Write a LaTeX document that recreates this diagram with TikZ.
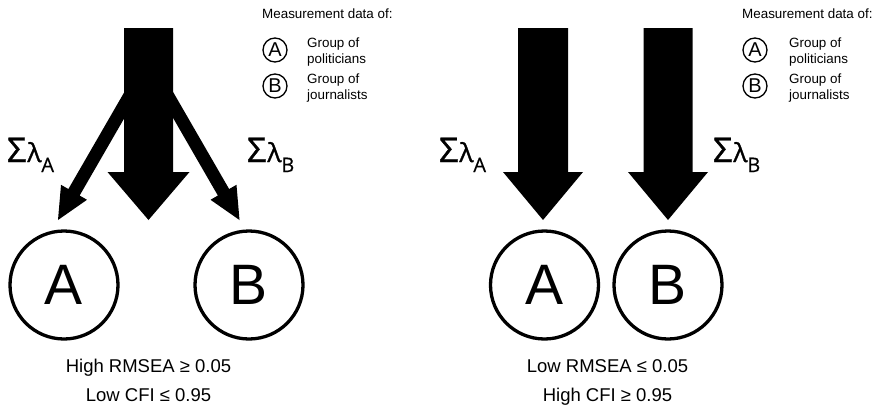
\documentclass[tikz,border=0pt]{standalone}
\usepackage{fontspec}
\setmainfont{Liberation Sans}
\newfontfamily\sigfont[FakeBold=1.2]{Open Sans}
\newfontfamily\subfont[FakeBold=0.4]{Open Sans}
\tikzset{
  pics/fatarrow/.style n args={4}{code={
    \fill[black] (-#2/2,-#1) -- (#2/2,-#1) -- (#2/2,-#4) -- (#3/2,-#4) -- (0,0)
      -- (-#3/2,-#4) -- (-#2/2,-#4) -- cycle;
  }},
  bigcirc/.style={circle, draw, line width=3.3pt, minimum size=108pt, inner sep=0pt,
    font=\fontsize{57}{57}\selectfont},
  smallcirc/.style={circle, draw, line width=1.3pt, minimum size=24pt, inner sep=0pt,
    font=\fontsize{20}{20}\selectfont},
  legtxt/.style={anchor=base west, inner sep=0pt, font=\fontsize{13.4}{16}\selectfont},
  fittxt/.style={anchor=base, inner sep=0pt, font=\fontsize{18.5}{20}\selectfont},
  sumlab/.style={anchor=base west, inner sep=0pt},
}
\newcommand{\suml}[1]{{\sigfont\fontsize{34}{34}\selectfont Σ\kern1pt\fontsize{26}{26}\selectfont λ\raisebox{-10pt}{\subfont\fontsize{20}{20}\selectfont #1}}}
\begin{document}
\begin{tikzpicture}[x=1pt,y=-1pt]
\useasboundingbox (0,0) rectangle (876,407);

% ---------- left panel ----------
\coordinate (tipLA) at (58,220);
\coordinate (tipLB) at (239.5,220);
\coordinate (tipLC) at (148.5,220);
\pic[rotate=-30] at (tipLA) {fatarrow={181}{13}{30}{32}};
\pic[rotate=30] at (tipLB) {fatarrow={181}{13}{30}{32}};
\pic at (tipLC) {fatarrow={192}{49}{82}{48}};

\node[bigcirc] (A1) at (64,285) {A};
\node[bigcirc] (B1) at (249,285) {B};

\node[sumlab] (sA1) at (7,162) {\suml{A}};
\node[sumlab] (sB1) at (247,162) {\suml{B}};

\node[fittxt] (f1a) at (148.5,372.7) {High RMSEA ≥ 0.05};
\node[fittxt] (f1b) at (148.5,401.7) {Low CFI ≤ 0.95};

\node[legtxt] (m1) at (262,18.5) {Measurement data of:};
\node[smallcirc] (lA1) at (275,50) {A};
\node[smallcirc] (lB1) at (275,86) {B};
\node[legtxt] (g1a) at (307,47) {Group of};
\node[legtxt] (g1b) at (307,63) {politicians};
\node[legtxt] (g1c) at (307,83) {Group of};
\node[legtxt] (g1d) at (307,99) {journalists};

% ---------- right panel ----------
\coordinate (tipRA) at (543,220);
\coordinate (tipRB) at (668,220);
\pic at (tipRA) {fatarrow={192}{50}{80}{48}};
\pic at (tipRB) {fatarrow={192}{49}{80}{48}};

\node[bigcirc] (A2) at (544.5,285) {A};
\node[bigcirc] (B2) at (668,285) {B};

\node[sumlab] (sA2) at (439,162) {\suml{A}};
\node[sumlab] (sB2) at (713,162) {\suml{B}};

\node[fittxt] (f2a) at (607.5,372.7) {Low RMSEA ≤ 0.05};
\node[fittxt] (f2b) at (607.5,401.7) {High CFI ≥ 0.95};

\node[legtxt] (m2) at (742,18.5) {Measurement data of:};
\node[smallcirc] (lA2) at (755,50) {A};
\node[smallcirc] (lB2) at (755,86) {B};
\node[legtxt] (g2a) at (789,47) {Group of};
\node[legtxt] (g2b) at (789,63) {politicians};
\node[legtxt] (g2c) at (789,83) {Group of};
\node[legtxt] (g2d) at (789,99) {journalists};
\end{tikzpicture}
\end{document}
